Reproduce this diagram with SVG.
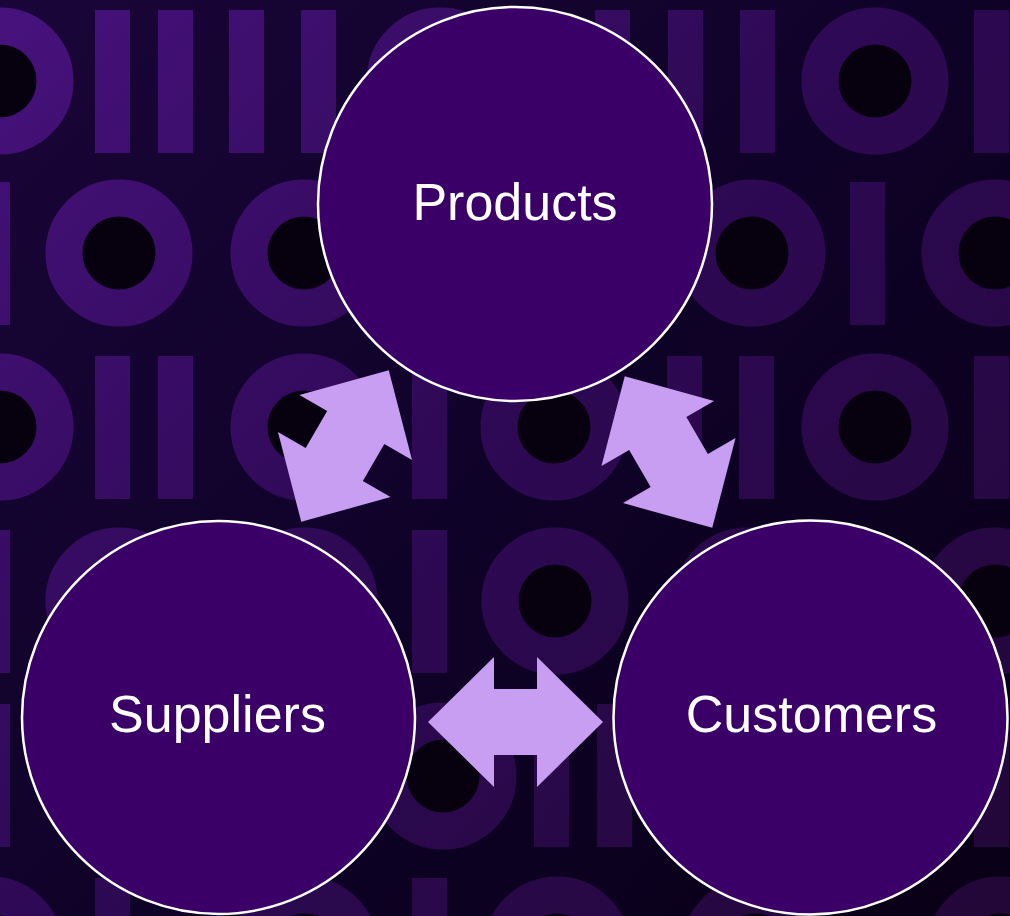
<svg xmlns="http://www.w3.org/2000/svg" xmlns:xlink="http://www.w3.org/1999/xlink" width="1010" height="916" viewBox="0 0 1010 916">
  <style>
    .ring { fill: #07000f; stroke: url(#dg); stroke-width: 37; }
    .bar { fill: url(#dg); }
    .node { fill: #3b0067; stroke: #ffffff; stroke-width: 2.5; }
    .label { font-family: "Liberation Sans", Arial, sans-serif; font-size: 52px; fill: #ffffff; text-anchor: middle; }
    .arrow { fill: #c89ef2; }
  </style>
  <defs>
    <linearGradient id="bg" gradientUnits="userSpaceOnUse" x1="0" y1="0" x2="1010" y2="916">
      <stop offset="0" stop-color="#1a0538"/>
      <stop offset="0.5" stop-color="#0f0228"/>
      <stop offset="1" stop-color="#090016"/>
    </linearGradient>
    <linearGradient id="dg" gradientUnits="userSpaceOnUse" x1="0" y1="0" x2="1010" y2="916">
      <stop offset="0" stop-color="#47127d"/>
      <stop offset="0.45" stop-color="#2f0956"/>
      <stop offset="1" stop-color="#220738"/>
    </linearGradient>
    <polygon id="dblArrow" points="-87.5,0 -21.5,-65 -21.5,-33 21.5,-33 21.5,-65 87.5,0 21.5,65 21.5,33 -21.5,33 -21.5,65"/>
  </defs>

  <g id="background">
    <rect x="0" y="0" width="1010" height="916" fill="url(#bg)"/>
    <!-- row 1 -->
    <circle class="ring" cx="0" cy="81" r="55"/>
    <rect class="bar" x="95" y="10" width="35" height="143"/>
    <rect class="bar" x="158" y="10" width="35" height="143"/>
    <rect class="bar" x="229" y="10" width="35" height="143"/>
    <rect class="bar" x="301" y="10" width="35" height="143"/>
    <circle class="ring" cx="440" cy="81" r="55"/>
    <rect class="bar" x="523" y="10" width="35" height="143"/>
    <rect class="bar" x="595" y="10" width="35" height="143"/>
    <rect class="bar" x="668" y="10" width="35" height="143"/>
    <rect class="bar" x="740" y="10" width="35" height="143"/>
    <circle class="ring" cx="875" cy="81" r="55"/>
    <rect class="bar" x="974" y="10" width="35" height="143"/>
    <!-- row 2 -->
    <rect class="bar" x="-25" y="182" width="35" height="143"/>
    <circle class="ring" cx="119" cy="253" r="55"/>
    <circle class="ring" cx="304" cy="253" r="55"/>
    <rect class="bar" x="412" y="182" width="35" height="143"/>
    <circle class="ring" cx="554" cy="253" r="55"/>
    <circle class="ring" cx="752" cy="253" r="55"/>
    <rect class="bar" x="850" y="182" width="35" height="143"/>
    <circle class="ring" cx="995" cy="253" r="55"/>
    <!-- row 3 -->
    <circle class="ring" cx="0" cy="427" r="55"/>
    <rect class="bar" x="95" y="356" width="35" height="143"/>
    <rect class="bar" x="158" y="356" width="35" height="143"/>
    <circle class="ring" cx="304" cy="427" r="55"/>
    <rect class="bar" x="412" y="356" width="35" height="143"/>
    <circle class="ring" cx="554" cy="427" r="55"/>
    <rect class="bar" x="667" y="356" width="35" height="143"/>
    <rect class="bar" x="739" y="356" width="35" height="143"/>
    <circle class="ring" cx="875" cy="427" r="55"/>
    <rect class="bar" x="974" y="356" width="35" height="143"/>
    <!-- row 4 -->
    <rect class="bar" x="-25" y="530" width="35" height="143"/>
    <circle class="ring" cx="119" cy="601" r="55"/>
    <circle class="ring" cx="304" cy="601" r="55"/>
    <rect class="bar" x="412" y="530" width="35" height="143"/>
    <circle class="ring" cx="555" cy="601" r="55"/>
    <circle class="ring" cx="747" cy="601" r="55"/>
    <circle class="ring" cx="995" cy="601" r="55"/>
    <!-- row 5 -->
    <rect class="bar" x="-25" y="704" width="35" height="143"/>
    <circle class="ring" cx="443" cy="776" r="55"/>
    <rect class="bar" x="534" y="704" width="35" height="143"/>
    <rect class="bar" x="597" y="704" width="35" height="143"/>
    <rect class="bar" x="974" y="704" width="35" height="143"/>
    <!-- row 6 -->
    <circle class="ring" cx="-10" cy="950" r="55"/>
    <rect class="bar" x="95" y="878" width="35" height="143"/>
    <circle class="ring" cx="305" cy="950" r="55"/>
    <rect class="bar" x="412" y="878" width="35" height="143"/>
    <circle class="ring" cx="557" cy="950" r="55"/>
    <circle class="ring" cx="755" cy="950" r="55"/>
    <circle class="ring" cx="1000" cy="950" r="55"/>
  </g>

  <g id="connectors">
    <use xlink:href="#dblArrow" href="#dblArrow" class="arrow" transform="translate(345,446) rotate(-60)"/>
    <use xlink:href="#dblArrow" href="#dblArrow" class="arrow" transform="translate(668.5,452) rotate(60)"/>
    <use xlink:href="#dblArrow" href="#dblArrow" class="arrow" transform="translate(515.5,722)"/>
  </g>

  <g id="node-products">
    <circle class="node" cx="515" cy="204" r="197"/>
    <text class="label" x="515" y="220">Products</text>
  </g>
  <g id="node-suppliers">
    <circle class="node" cx="218.5" cy="717.5" r="196.5"/>
    <text class="label" x="217.5" y="732">Suppliers</text>
  </g>
  <g id="node-customers">
    <circle class="node" cx="810.5" cy="717.5" r="197"/>
    <text class="label" x="811.5" y="732">Customers</text>
  </g>
</svg>
